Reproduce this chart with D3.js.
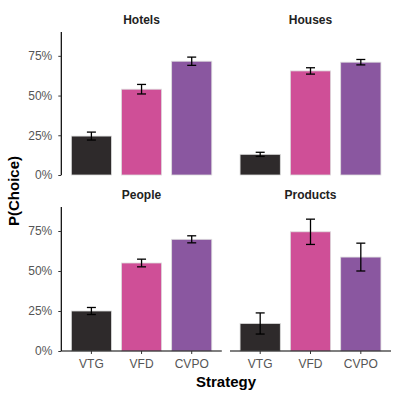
<!DOCTYPE html>
<html><head><meta charset="utf-8">
<script src="https://cdn.jsdelivr.net/npm/d3@7"></script>
<style>body{margin:0;background:#fff}svg{display:block;font-family:"Liberation Sans",Arial,sans-serif}</style>
</head><body><svg id="c" width="399" height="399"></svg>
<script>
const strategies = ["VTG", "VFD", "CVPO"];
const panels = ["Hotels", "Houses", "People", "Products"];
const means = {
  Hotels:   [0.245, 0.54, 0.716],
  Houses:   [0.13, 0.655, 0.71],
  People:   [0.25, 0.55, 0.698],
  Products: [0.172, 0.745, 0.587]
};
const errs = {
  Hotels:   [0.025, 0.03, 0.026],
  Houses:   [0.013, 0.02, 0.017],
  People:   [0.022, 0.024, 0.022],
  Products: [0.066, 0.079, 0.087]
};
const yTicks = [0, 0.25, 0.5, 0.75];
const colors = ["#2e2a2b", "#cf4f97", "#8a57a0"];

const svg = d3.select("#c");
const cols = [[61.3, 221.8], [230, 391]];
const rows = [[32, 175], [207, 351]];
const ymax = 0.9;

panels.forEach((p, i) => {
  const r = Math.floor(i / 2), c = i % 2;
  const [x0, x1] = cols[c], [yt, yb] = rows[r];
  const x = d3.scaleBand().domain(strategies).range([x0, x1]).paddingInner(0.2).paddingOuter(0.2);
  const y = d3.scaleLinear().domain([0, ymax]).range([yb, yt]);
  const g = svg.append("g");
  g.append("text").attr("x", (x0 + x1) / 2).attr("y", r === 0 ? 24 : 199)
    .attr("text-anchor", "middle").attr("font-size", 12).attr("font-weight", "bold").attr("fill", "#222").text(p);
  g.selectAll("rect").data(strategies).join("rect")
    .attr("x", d => x(d)).attr("width", x.bandwidth())
    .attr("y", (d, k) => y(means[p][k])).attr("height", (d, k) => y(0) - y(means[p][k]))
    .attr("fill", (d, k) => colors[k]).attr("stroke", "#ddd").attr("stroke-width", 0.8);
  const eb = g.selectAll("g.eb").data(strategies).join("g").attr("class", "eb");
  const cx = d => x(d) + x.bandwidth() / 2;
  eb.append("line").attr("x1", cx).attr("x2", cx)
    .attr("y1", (d, k) => y(means[p][k] - errs[p][k])).attr("y2", (d, k) => y(means[p][k] + errs[p][k]))
    .attr("stroke", "#000").attr("stroke-width", 1.3);
  [-1, 1].forEach(s => {
    eb.append("line").attr("x1", d => cx(d) - 4.5).attr("x2", d => cx(d) + 4.5)
      .attr("y1", (d, k) => y(means[p][k] + s * errs[p][k])).attr("y2", (d, k) => y(means[p][k] + s * errs[p][k]))
      .attr("stroke", "#000").attr("stroke-width", 1.3);
  });
  if (c === 0) {
    const ax = g.append("g").attr("transform", `translate(${x0},0)`)
      .call(d3.axisLeft(y).tickValues(yTicks).tickFormat(d3.format(".0%")).tickSize(3).tickPadding(6));
    ax.select(".domain").attr("d", `M0,${yt}V${yb}`).attr("stroke", "#000").attr("stroke-width", 1.2);
    ax.selectAll(".tick line").attr("stroke", "#333");
    ax.selectAll(".tick text").attr("font-size", 12).attr("fill", "#555").attr("font-family", "Liberation Sans, Arial, sans-serif");
  }
  if (r === 1) {
    const ax = g.append("g").attr("transform", `translate(0,${yb})`)
      .call(d3.axisBottom(x).tickSize(3).tickPadding(5));
    ax.select(".domain").attr("d", `M${x0},0H${x1}`).attr("stroke", "#000").attr("stroke-width", 1.2);
    ax.selectAll(".tick line").attr("stroke", "#333");
    ax.selectAll(".tick text").attr("font-size", 12).attr("fill", "#555").attr("font-family", "Liberation Sans, Arial, sans-serif");
  }
});

svg.append("text").attr("x", 226).attr("y", 387).attr("text-anchor", "middle")
  .attr("font-size", 15).attr("font-weight", "bold").attr("fill", "#000").text("Strategy");
svg.append("text").attr("transform", "translate(19,191) rotate(-90)").attr("text-anchor", "middle")
  .attr("font-size", 15).attr("font-weight", "bold").attr("fill", "#000").text("P(Choice)");
</script></body></html>
